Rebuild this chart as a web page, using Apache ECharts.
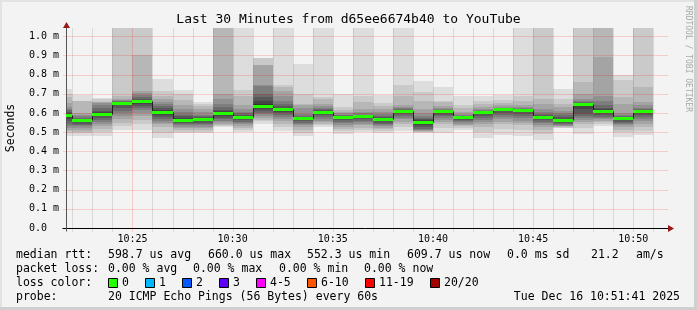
<!DOCTYPE html>
<html><head><meta charset="utf-8">
<script src="https://cdn.jsdelivr.net/npm/echarts@6/dist/echarts.min.js"></script>
<style>html,body{margin:0;padding:0;background:#f3f3f3}#c{width:697px;height:310px}</style>
</head><body><div id="c"></div>
<script>
// ---------- data ----------
const titleText = 'Last 30 Minutes from d65ee6674b40 to YouTube';
const axisStart = '10:21:41';
const axisEnd = '10:51:41';
// each sample covers the 60 s before its time stamp
const sampleTimes = ['10:22','10:23','10:24','10:25','10:26','10:27','10:28','10:29','10:30','10:31',
  '10:32','10:33','10:34','10:35','10:36','10:37','10:38','10:39','10:40','10:41',
  '10:42','10:43','10:44','10:45','10:46','10:47','10:48','10:49','10:50','10:51'];
// median rtt per sample (ms)
const medians = [0.588,0.562,0.596,0.653,0.660,0.605,0.565,0.568,0.598,0.580,
  0.638,0.619,0.573,0.607,0.578,0.583,0.568,0.612,0.552,0.608,
  0.577,0.605,0.619,0.616,0.580,0.563,0.645,0.611,0.572,0.610];
// 20 sorted ping rtts per sample (ms)
const pings = [
 [0.480,0.495,0.505,0.512,0.520,0.530,0.545,0.560,0.570,0.584,0.592,0.600,0.607,0.613,0.620,0.630,0.650,0.685,0.700,0.723],
 [0.480,0.495,0.503,0.510,0.520,0.530,0.538,0.545,0.553,0.560,0.564,0.567,0.571,0.576,0.582,0.590,0.600,0.662,0.665,0.696],
 [0.481,0.500,0.515,0.530,0.545,0.555,0.565,0.575,0.585,0.594,0.600,0.605,0.612,0.625,0.640,0.652,0.655,0.658,0.672,0.680],
 [0.512,0.530,0.550,0.570,0.585,0.600,0.610,0.625,0.640,0.651,0.655,0.657,0.658,0.660,0.663,0.668,0.675,0.690,1.200,1.300],
 [0.512,0.540,0.565,0.585,0.600,0.615,0.625,0.635,0.645,0.657,0.663,0.668,0.675,0.685,0.695,0.705,0.717,0.902,1.200,1.300],
 [0.467,0.498,0.525,0.540,0.550,0.560,0.568,0.578,0.590,0.602,0.608,0.615,0.625,0.635,0.645,0.656,0.672,0.690,0.717,0.775],
 [0.495,0.503,0.512,0.520,0.528,0.535,0.542,0.548,0.555,0.562,0.568,0.574,0.582,0.592,0.605,0.622,0.640,0.670,0.700,0.718],
 [0.495,0.503,0.512,0.520,0.528,0.535,0.543,0.550,0.558,0.566,0.570,0.573,0.578,0.585,0.592,0.605,0.620,0.635,0.647,0.655],
 [0.525,0.532,0.538,0.545,0.552,0.560,0.567,0.575,0.585,0.595,0.601,0.608,0.618,0.630,0.647,0.675,0.700,1.300,1.400,1.500],
 [0.500,0.513,0.524,0.532,0.540,0.548,0.555,0.562,0.570,0.577,0.583,0.586,0.591,0.598,0.607,0.620,0.640,0.690,0.718,1.200],
 [0.543,0.560,0.565,0.575,0.585,0.595,0.600,0.610,0.620,0.632,0.645,0.660,0.685,0.700,0.740,0.745,0.848,0.850,0.886,0.889],
 [0.505,0.525,0.545,0.560,0.568,0.578,0.588,0.598,0.607,0.616,0.622,0.628,0.636,0.648,0.665,0.690,0.715,0.735,0.744,1.200],
 [0.481,0.498,0.512,0.525,0.535,0.542,0.550,0.557,0.565,0.571,0.575,0.577,0.580,0.585,0.595,0.625,0.640,0.647,0.700,0.853],
 [0.529,0.537,0.545,0.552,0.560,0.568,0.578,0.588,0.597,0.605,0.609,0.611,0.615,0.620,0.627,0.635,0.645,0.675,0.682,1.200],
 [0.490,0.505,0.518,0.528,0.538,0.546,0.554,0.562,0.569,0.576,0.580,0.582,0.584,0.587,0.592,0.598,0.607,0.618,0.630,0.700],
 [0.500,0.510,0.523,0.535,0.545,0.552,0.559,0.566,0.573,0.581,0.585,0.586,0.588,0.592,0.598,0.607,0.620,0.655,0.690,1.200],
 [0.498,0.507,0.515,0.523,0.530,0.536,0.543,0.550,0.558,0.566,0.570,0.573,0.578,0.585,0.594,0.605,0.620,0.638,0.653,0.695],
 [0.508,0.527,0.540,0.553,0.567,0.576,0.585,0.594,0.602,0.610,0.614,0.615,0.617,0.620,0.624,0.630,0.640,0.690,0.747,1.200],
 [0.495,0.499,0.503,0.506,0.509,0.513,0.518,0.525,0.535,0.548,0.556,0.561,0.567,0.575,0.585,0.600,0.620,0.665,0.710,0.765],
 [0.498,0.520,0.540,0.555,0.565,0.575,0.583,0.590,0.598,0.606,0.610,0.611,0.612,0.615,0.619,0.625,0.635,0.655,0.665,0.737],
 [0.512,0.520,0.530,0.537,0.545,0.551,0.557,0.563,0.570,0.576,0.578,0.579,0.581,0.584,0.588,0.595,0.605,0.625,0.642,0.686],
 [0.467,0.500,0.525,0.540,0.553,0.565,0.575,0.585,0.595,0.604,0.606,0.607,0.609,0.612,0.616,0.622,0.630,0.645,0.665,0.690],
 [0.484,0.515,0.540,0.555,0.568,0.580,0.590,0.600,0.609,0.617,0.619,0.620,0.621,0.623,0.627,0.632,0.640,0.652,0.670,0.696],
 [0.481,0.510,0.535,0.548,0.560,0.572,0.582,0.593,0.605,0.614,0.616,0.617,0.618,0.620,0.624,0.630,0.640,0.665,0.690,1.200],
 [0.460,0.490,0.510,0.525,0.538,0.547,0.555,0.562,0.570,0.578,0.582,0.585,0.590,0.597,0.605,0.620,0.645,0.672,1.200,1.300],
 [0.520,0.524,0.528,0.531,0.534,0.538,0.542,0.547,0.553,0.560,0.566,0.571,0.578,0.587,0.598,0.612,0.630,0.645,0.674,0.723],
 [0.492,0.520,0.540,0.555,0.565,0.575,0.585,0.597,0.620,0.643,0.648,0.650,0.652,0.655,0.660,0.672,0.700,0.761,1.200,1.300],
 [0.530,0.545,0.553,0.560,0.566,0.573,0.580,0.588,0.598,0.608,0.614,0.619,0.627,0.640,0.660,0.690,0.893,1.200,1.300,1.400],
 [0.477,0.500,0.512,0.525,0.535,0.541,0.548,0.555,0.563,0.571,0.574,0.575,0.578,0.583,0.590,0.600,0.645,0.682,0.770,0.800],
 [0.484,0.505,0.525,0.542,0.558,0.570,0.580,0.590,0.598,0.608,0.612,0.613,0.616,0.620,0.628,0.640,0.656,0.737,1.200,1.300]
];
const xTickLabels = ['10:25','10:30','10:35','10:40','10:45','10:50'];
const yMaxValue = 1.0432;
const yStep = 0.1;
const medianLegend = ['598.7 us avg','660.0 us max','552.3 us min','609.7 us now','0.0 ms sd','21.2','am/s'];
const lossLegend = ['0.00 % avg','0.00 % max','0.00 % min','0.00 % now'];
const lossLabels = ['0','1','2','3','4-5','6-10','11-19','20/20'];
const lossColors = ['#26ff00','#00b8ff','#0059ff','#5e00ff','#ff00ff','#ff5500','#ff0000','#a10000'];
const probeText = '20 ICMP Echo Pings (56 Bytes) every 60s';
const dateText = 'Tue Dec 16 10:51:41 2025';

// ---------- helpers ----------
function toMin(s){const a=s.split(':').map(Number);return (a[0]-10)*60+a[1]+(a[2]||0)/60;}
const X_MIN = toMin(axisStart), X_MAX = toMin(axisEnd);
const SMOKE = ['#dddddd','#cacaca','#b7b7b7','#a4a4a4','#919191','#7e7e7e','#6b6b6b','#585858','#454545','#323232'];
const MONO = '"DejaVu Sans Mono", monospace';
const seriesData = sampleTimes.map((t,i)=>[toMin(t), medians[i]]);
const minuteLines = [];
for (let m = Math.ceil(X_MIN); m <= X_MAX; m++) minuteLines.push(m);
const hLines = [];
for (let k = 1; k * yStep <= yMaxValue; k++) hLines.push(+(k*yStep).toFixed(1));

function colX(api, t){
  const x0 = Math.max(t-1, X_MIN);
  return [Math.round(api.coord([x0,0])[0]), Math.round(api.coord([t,0])[0])];
}

const chart = echarts.init(document.getElementById('c'), null, {renderer:'canvas'});

function txt(x,y,s,o){
  const st = Object.assign({text:s, font:'11.5px '+MONO, fill:'#000', align:'left', verticalAlign:'middle'}, o||{});
  st.textAlign = st.align; st.textVerticalAlign = st.verticalAlign;
  return {type:'text', x:x, y:y, silent:true, style:st};
}
const graphics = [
  {type:'rect', shape:{x:0,y:0,width:697,height:310}, style:{fill:'#cfcfcf'}, silent:true, z:-10},
  {type:'rect', shape:{x:0,y:0,width:694,height:307}, style:{fill:'#e2e2e2'}, silent:true, z:-9},
  {type:'rect', shape:{x:2,y:2,width:692,height:305}, style:{fill:'#f3f3f3'}, silent:true, z:-8},
  txt(348.5, 19.5, titleText, {font:'13px '+MONO, align:'center'}),
  Object.assign(txt(11, 128, 'Seconds', {align:'center'}), {rotation: Math.PI/2}),
  Object.assign(txt(688, 59, 'RRDTOOL / TOBI OETIKER', {align:'center', font:'8px '+MONO, fill:'#a8a8a8'}), {rotation: -Math.PI/2}),
  txt(16, 255, 'median rtt:'),
  txt(16, 269, 'packet loss:'),
  txt(16, 283, 'loss color:'),
  txt(16, 297, 'probe:'),
  txt(108, 297, probeText),
  txt(680, 297, dateText, {align:'right'})
];
const medX = [108,208,307,407,507,591,636];
medianLegend.forEach((s,i)=>graphics.push(txt(medX[i], 255, s)));
const lossX = [108,193,279,364];
lossLegend.forEach((s,i)=>graphics.push(txt(lossX[i], 269, s)));
let bx = 108;
lossLabels.forEach((s,i)=>{
  graphics.push({type:'rect', silent:true, shape:{x:bx+0.5,y:278.5,width:9,height:9}, style:{fill:lossColors[i], stroke:'#000', lineWidth:1}});
  graphics.push(txt(bx+14, 283, s));
  bx += 37 + 7*(s.length-1);
});

chart.setOption({
  animation:false,
  backgroundColor:'transparent',
  grid:{left:66, right:30, top:28, bottom:82, containLabel:false},
  xAxis:{type:'value', min:X_MIN, max:X_MAX,
    axisLine:{show:false}, axisTick:{show:false}, splitLine:{show:false},
    axisLabel:{customValues: xTickLabels.map(toMin), formatter: v => {const m=Math.round(v);return '10:'+String(m).padStart(2,'0');},
      fontFamily:'DejaVu Sans Mono', fontSize:10, color:'#000', margin:6}},
  yAxis:{type:'value', min:0, max:yMaxValue, interval:yStep,
    axisLine:{show:false}, axisTick:{show:false}, splitLine:{show:false},
    axisLabel:{showMaxLabel:false, formatter: v => v===0 ? '0.0  ' : v.toFixed(1)+' m',
      fontFamily:'DejaVu Sans Mono', fontSize:10, color:'#000', margin:7}},
  graphic: graphics,
  series:[
    {type:'custom', name:'smoke', z:1, clip:true, data: seriesData,
     renderItem(params, api){
       const i = params.dataIndex, t = api.value(0), p = pings[i];
       const [xa, xb] = colX(api, t);
       const ch = [];
       for (let j=0;j<19;j++){
         const lo = Math.min(p[j], yMaxValue), hi = Math.min(p[j+1], yMaxValue);
         const ya = Math.round(api.coord([t,hi])[1]), yb = Math.round(api.coord([t,lo])[1]);
         if (yb <= ya) continue;
         ch.push({type:'rect', shape:{x:xa,y:ya,width:xb-xa,height:yb-ya}, style:{fill:SMOKE[Math.min(j,18-j)]}});
       }
       return {type:'group', children:ch};
     }},
    {type:'custom', name:'grid', z:2, clip:false, data:[[X_MIN,0]], silent:true,
     renderItem(params, api){
       const ch = [];
       const left = Math.round(api.coord([X_MIN,0])[0]) + 0.5;
       const right = Math.round(api.coord([X_MAX,0])[0]);
       const bottom = Math.round(api.coord([X_MIN,0])[1]) + 0.5;
       const top = Math.round(api.coord([X_MIN,yMaxValue])[1]);
       hLines.forEach(v=>{
         const y = Math.round(api.coord([X_MIN,v])[1]) + 0.5;
         ch.push({type:'line', shape:{x1:left-3,y1:y,x2:right+1,y2:y}, style:{stroke:'rgba(255,0,0,0.32)', lineWidth:1, lineDash:[1,1]}});
       });
       minuteLines.forEach(m=>{
         const x = Math.round(api.coord([m,0])[0]) + 0.5;
         const major = m % 5 === 0;
         ch.push({type:'line', shape:{x1:x,y1:bottom+3,x2:x,y2:top}, style:{stroke: major ? 'rgba(255,0,0,0.32)' : 'rgba(130,130,130,0.45)', lineWidth:1, lineDash:[1,1]}});
       });
       ch.push({type:'line', shape:{x1:left-4,y1:bottom,x2:right+1,y2:bottom}, style:{stroke:'#000', lineWidth:1}});
       ch.push({type:'line', shape:{x1:left,y1:bottom+3,x2:left,y2:top}, style:{stroke:'#555', lineWidth:1}});
       ch.push({type:'polygon', shape:{points:[[left-3.5,top],[left+3.5,top],[left,top-6]]}, style:{fill:'#9a1818'}});
       ch.push({type:'polygon', shape:{points:[[right+1,bottom-3.5],[right+1,bottom+3.5],[right+7,bottom]]}, style:{fill:'#9a1818'}});
       return {type:'group', children:ch};
     }},
    {type:'custom', name:'median', z:3, clip:true, data: seriesData,
     renderItem(params, api){
       const i = params.dataIndex, t = api.value(0), m = api.value(1);
       const [xa, xb] = colX(api, t);
       const y = Math.round(api.coord([t,m])[1]);
       const ch = [];
       if (i > 0){
         const yp = Math.round(api.coord([t, medians[i-1]])[1]);
         ch.push({type:'line', shape:{x1:xa+0.5,y1:yp+0.5,x2:xa+0.5,y2:y+0.5}, style:{stroke:'#202020', lineWidth:1}});
       }
       ch.push({type:'rect', shape:{x:xa,y:y-1,width:xb-xa,height:3}, style:{fill:lossColors[0]}});
       return {type:'group', children:ch};
     }}
  ]
});
</script></body></html>
